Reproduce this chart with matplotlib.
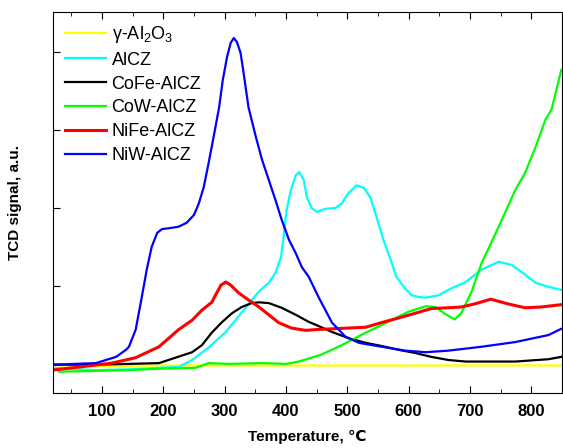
import matplotlib
matplotlib.use("Agg")
import matplotlib.pyplot as plt
from matplotlib.ticker import MultipleLocator

plt.rcParams['font.family'] = ['Liberation Sans', 'DejaVu Sans']
plt.rcParams['mathtext.fontset'] = 'custom'
plt.rcParams['mathtext.rm'] = 'Liberation Sans'
plt.rcParams['mathtext.it'] = 'Liberation Sans:italic'
plt.rcParams['mathtext.bf'] = 'Liberation Sans:bold'

# values (temperature, signal in arbitrary units)
al2o3_x = [19, 100, 200, 300, 400, 500, 600, 700, 800, 849]
al2o3_y = [-0.05, -0.03, -0.02, -0.02, -0.02, -0.02, -0.02, -0.02, -0.02, -0.02]

alcz_x = [19, 90, 144, 193, 225, 247, 274, 302, 328, 356, 372, 383, 392, 396, 401, 408,
          416, 422, 429, 434, 442, 450, 465, 481, 491, 502, 515, 527, 538, 548, 559,
          571, 580, 595, 605, 616, 628, 649, 670, 693, 719, 747, 768, 791, 807, 828, 849]
alcz_y = [-0.05, -0.08, -0.07, -0.05, -0.04, 0.05, 0.21, 0.41, 0.66, 0.93, 1.04, 1.17, 1.37, 1.62, 1.97, 2.23,
          2.42, 2.46, 2.36, 2.14, 2.00, 1.95, 1.99, 2.00, 2.06, 2.19, 2.29, 2.26, 2.13, 1.88, 1.59,
          1.33, 1.12, 0.96, 0.88, 0.86, 0.85, 0.88, 0.97, 1.05, 1.21, 1.31, 1.27, 1.14, 1.04, 0.99, 0.95]

cofe_x = [19, 90, 144, 193, 220, 247, 263, 279, 295, 312, 328, 344, 356, 372, 393, 416,
          437, 449, 475, 502, 530, 556, 584, 611, 637, 665, 693, 719, 774, 828, 849]
cofe_y = [-0.01, -0.01, 0.00, 0.01, 0.08, 0.15, 0.24, 0.40, 0.53, 0.65, 0.73, 0.78, 0.79, 0.78, 0.72, 0.63,
          0.54, 0.50, 0.41, 0.33, 0.27, 0.23, 0.18, 0.14, 0.09, 0.05, 0.03, 0.03, 0.03, 0.06, 0.09]

cow_x = [30, 90, 144, 198, 253, 274, 307, 361, 400, 421, 458, 491, 530, 567, 600, 628,
         644, 660, 675, 686, 703, 719, 747, 774, 790, 807, 823, 833, 849]
cow_y = [-0.10, -0.09, -0.08, -0.06, -0.05, 0.01, 0.00, 0.01, 0.00, 0.03, 0.12, 0.24, 0.40, 0.54, 0.67, 0.74,
         0.73, 0.64, 0.57, 0.65, 0.93, 1.29, 1.76, 2.23, 2.45, 2.78, 3.13, 3.26, 3.77]

nife_x = [19, 63, 116, 155, 193, 209, 225, 247, 263, 279, 287, 294, 302, 310, 323, 339,
          356, 372, 388, 409, 432, 449, 475, 502, 530, 556, 584, 611, 637, 665, 686,
          708, 734, 762, 790, 816, 849]
nife_y = [-0.08, -0.04, 0.01, 0.08, 0.22, 0.33, 0.44, 0.56, 0.69, 0.79, 0.91, 1.01, 1.05, 1.01, 0.91, 0.82,
          0.73, 0.63, 0.53, 0.46, 0.43, 0.44, 0.45, 0.46, 0.47, 0.53, 0.59, 0.65, 0.71, 0.72, 0.73,
          0.77, 0.83, 0.77, 0.72, 0.73, 0.76]

niw_x = [19, 90, 123, 139, 144, 155, 165, 173, 181, 190, 198, 209, 225, 238, 250, 258,
         266, 274, 282, 291, 297, 304, 310, 315, 320, 326, 331, 339, 351, 361, 372,
         383, 393, 405, 416, 426, 437, 453, 475, 497, 519, 556, 595, 628, 665, 719,
         774, 828, 849]
niw_y = [-0.01, 0.01, 0.09, 0.18, 0.22, 0.44, 0.86, 1.21, 1.50, 1.68, 1.73, 1.74, 1.76, 1.81, 1.91, 2.06,
         2.27, 2.58, 2.91, 3.29, 3.64, 3.94, 4.12, 4.18, 4.13, 3.99, 3.73, 3.29, 2.91, 2.62, 2.36,
         2.10, 1.85, 1.59, 1.42, 1.24, 1.12, 0.86, 0.53, 0.35, 0.27, 0.22, 0.17, 0.15, 0.17, 0.22,
         0.28, 0.37, 0.45]

fig = plt.figure(figsize=(5.63, 4.48), dpi=100)
ax = fig.add_axes([0.094, 0.123, 0.904, 0.85])

ax.plot(al2o3_x, al2o3_y, color='#ffff00', lw=1.6, label=r'γ-Al$\mathregular{_2}$O$\mathregular{_3}$')
ax.plot(alcz_x, alcz_y, color='#00ffff', lw=1.6, label='AlCZ')
ax.plot(cofe_x, cofe_y, color='black', lw=1.6, label='CoFe-AlCZ')
ax.plot(cow_x, cow_y, color='#00ff00', lw=1.6, label='CoW-AlCZ')
ax.plot(nife_x, nife_y, color='#ff0000', lw=2.2, label='NiFe-AlCZ')
ax.plot(niw_x, niw_y, color='#0000ff', lw=1.6, label='NiW-AlCZ')

ax.set_xlim(20, 850)
ax.set_ylim(-0.372, 4.513)
ax.xaxis.set_major_locator(MultipleLocator(100))
ax.xaxis.set_minor_locator(MultipleLocator(50))
ax.yaxis.set_major_locator(MultipleLocator(1))
ax.tick_params(axis='x', which='both', direction='in', top=True)
ax.tick_params(axis='x', which='major', length=5, labelsize=12, pad=8)
ax.tick_params(axis='x', which='minor', length=3)
ax.tick_params(axis='y', which='major', direction='in', length=5, labelleft=False)
for lab in ax.get_xticklabels():
    lab.set_fontweight('bold')

ax.set_xlabel('Temperature, ℃', fontsize=11, fontweight='bold', labelpad=8)
ax.set_ylabel('TCD signal, a.u.', fontsize=11, fontweight='bold', labelpad=22)

ax.legend(loc='upper left', frameon=False, fontsize=13, handlelength=2.3,
          labelspacing=0.38, borderaxespad=0.35, borderpad=0.3, handletextpad=0.3)

fig.savefig('out.png', dpi=100)
